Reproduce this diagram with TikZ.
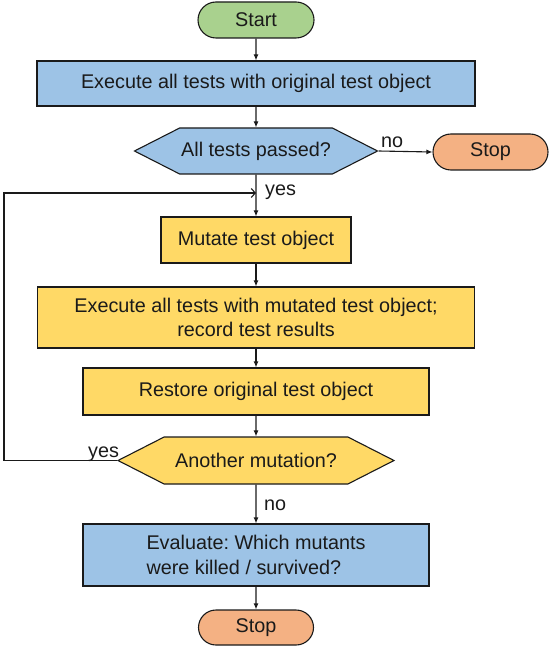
\documentclass[tikz,border=0pt]{standalone}
\usepackage{fontspec}
\setmainfont{Liberation Sans}
\usetikzlibrary{shapes.symbols,shapes.misc,arrows.meta}
\definecolor{cblue}{HTML}{9DC3E6}
\definecolor{cyellow}{HTML}{FFD966}
\definecolor{cgreen}{HTML}{A9D18E}
\definecolor{corange}{HTML}{F4B183}
\definecolor{cline}{HTML}{1A1A1A}
\frenchspacing
\begin{document}
\begin{tikzpicture}[x=1pt,y=-1pt,
  every node/.style={font=\fontsize{19.8}{24.5}\selectfont, text=cline},
  shapebase/.style={draw=cline, line width=1.1pt, inner sep=0pt, align=center},
  box/.style={shapebase, rectangle},
  term/.style={shapebase, rounded rectangle, minimum width=116pt, minimum height=36pt},
  hexa/.style={shapebase, signal, signal to=west and east, signal pointer angle=54},
  lbl/.style={anchor=base west, inner sep=0pt},
  arr/.style={draw=cline, line width=1.1pt, -{Latex[length=6pt,width=5pt]}},
  looparr/.style={draw=cline, line width=1.1pt, -{Straight Barb[length=4pt,width=9pt]}}
]
\useasboundingbox (0,0) rectangle (554,652);

\node[term, fill=cgreen] (start) at (256,20) {Start};
\node[box, fill=cblue, minimum width=438pt, minimum height=45pt] (b1) at (256,83.5) {Execute all tests with original test object};
\node[hexa, fill=cblue, minimum width=243pt, minimum height=46pt] (h1) at (256,151) {All tests passed?};
\node[term, fill=corange, minimum width=115pt] (stop1) at (490.5,152) {Stop};
\node[box, fill=cyellow, minimum width=190pt, minimum height=46pt] (b2) at (256,240) {Mutate test object};
\node[box, fill=cyellow, minimum width=437pt, minimum height=61pt] (b3) at (256,317.5) {Execute all tests with mutated test object;\\record test results};
\node[box, fill=cyellow, minimum width=346pt, minimum height=47pt] (b4) at (256,391.5) {Restore original test object};
\node[hexa, fill=cyellow, minimum width=276pt, minimum height=47pt] (h2) at (256,460.5) {Another mutation?};
\node[box, fill=cblue, minimum width=346pt, minimum height=62pt, align=left] (b5) at (256,555) {Evaluate: Which mutants\\were killed / survived?};
\node[term, fill=corange, minimum width=115pt, minimum height=35pt] (stop2) at (256,627.5) {Stop};

\coordinate (j) at (256,193);
\coordinate (lc) at (4,193);

\draw[arr] (start) -- (b1);
\draw[arr] (b1) -- (h1);
\draw[arr] (h1.east) -- (stop1.west);
\draw[arr] (h1) -- (b2);
\draw[arr] (b2) -- (b3);
\draw[arr] (b3) -- (b4);
\draw[arr] (b4) -- (h2);
\draw[arr] (h2) -- (b5);
\draw[arr] (b5) -- (stop2);
\draw[looparr] (h2.west) -| (lc) -- (j);

\node[lbl] (no1) at (381,148) {no};
\node[lbl] (yes1) at (265,196) {yes};
\node[lbl] (yes2) at (88,457) {yes};
\node[lbl] (no2) at (264,510) {no};
\end{tikzpicture}
\end{document}
